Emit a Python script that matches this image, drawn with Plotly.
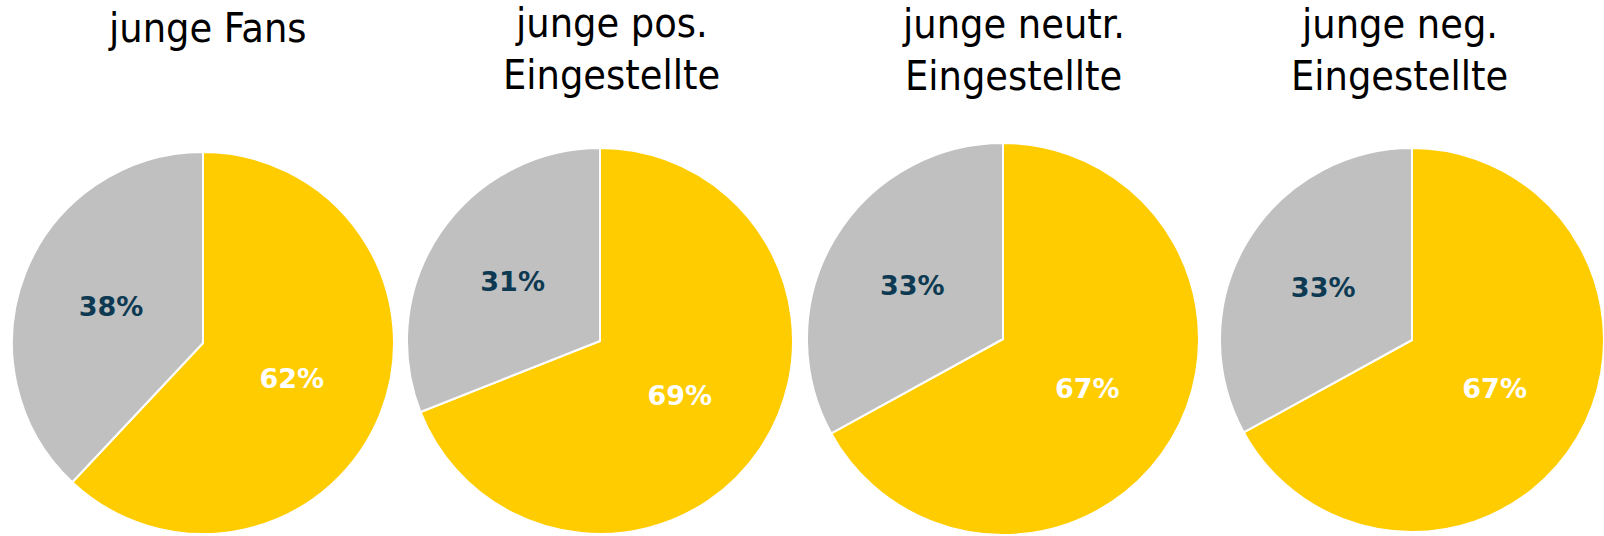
import plotly.graph_objects as go

W, H = 1604, 536

titles = [["junge Fans"], ["junge pos.", "Eingestellte"],
          ["junge neutr.", "Eingestellte"], ["junge neg.", "Eingestellte"]]
categories = ["ja", "nein"]
yes_values = [62, 69, 67, 67]
no_values = [38, 31, 33, 33]

colors = ["#FFCC00", "#C0C0C0"]
label_colors = ["#FFFFFF", "#0D3A52"]

# pie geometry in pixels (center x, center y from top, radius)
geo = [(203, 343, 191), (600, 341, 193), (1003, 339, 196), (1412, 340, 192)]
title_x = [207, 611, 1013, 1399]
title_base = [[44], [39, 91], [40, 92], [40, 92]]

fig = go.Figure()
for i in range(4):
    cx, cy, r = geo[i]
    x0, x1 = (cx - r) / W, min((cx + r) / W, 1)
    yb = H - cy
    y0, y1 = max((yb - r) / H, 0), min((yb + r) / H, 1)
    fig.add_trace(go.Pie(
        labels=categories,
        values=[yes_values[i], no_values[i]],
        sort=False, direction="clockwise", rotation=0,
        marker=dict(colors=colors, line=dict(color="white", width=2)),
        texttemplate="%{value}%", textinfo="value",
        textposition="inside", insidetextorientation="horizontal",
        textfont=dict(family="DejaVu Sans, sans-serif", size=27, color=label_colors, weight="bold"),
        domain=dict(x=[x0, x1], y=[y0, y1]),
        showlegend=False, hoverinfo="label+percent",
    ))
    for line, base in zip(titles[i], title_base[i]):
        fig.add_annotation(
            text=line, x=title_x[i] / W, y=1 - (base - 16) / H,
            xref="paper", yref="paper", xanchor="center", yanchor="middle",
            showarrow=False,
            font=dict(family="DejaVu Sans Condensed, DejaVu Sans, sans-serif", size=41, color="#000000"),
        )

fig.update_layout(
    width=W, height=H, margin=dict(l=0, r=0, t=0, b=0),
    paper_bgcolor="white", plot_bgcolor="white",
)
fig.write_html("out.html", config={"displayModeBar": False},
               post_script="document.body.style.margin='0';")
